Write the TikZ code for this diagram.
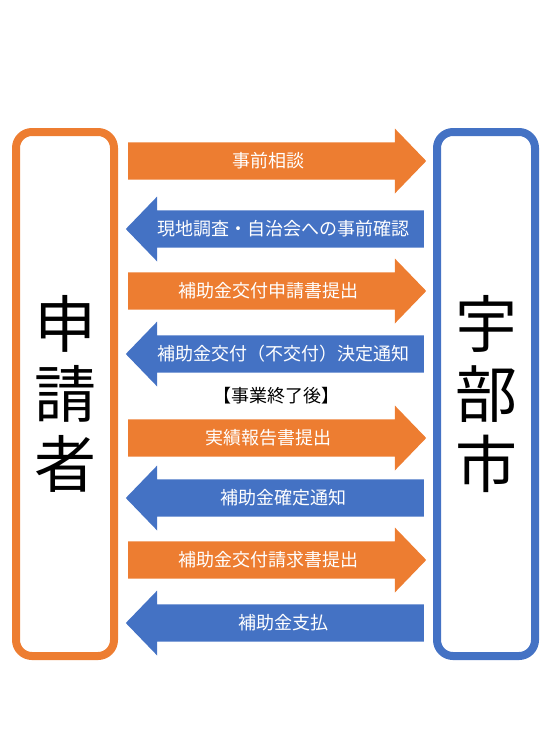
\documentclass[tikz,border=0pt]{standalone}
\usepackage{fontspec}
\newfontfamily\cjk{Noto Sans CJK JP}
\usetikzlibrary{shapes.arrows, positioning}
\definecolor{ubeorange}{HTML}{ED7D31}
\definecolor{ubeblue}{HTML}{4472C4}

\tikzset{
  party/.style={draw, line width=8pt, rounded corners=16pt, minimum width=98pt,
    minimum height=524pt, align=center, inner sep=0pt,
    font=\cjk\fontsize{62}{70}\selectfont},
  flow/.style={single arrow, single arrow head extend=12pt, single arrow tip angle=92,
    minimum width=65pt, minimum height=298pt, inner xsep=0pt, inner ysep=7.5pt,
    text=white, anchor=tail, font=\cjk\fontsize{18}{18}\selectfont},
  toshi/.style={flow, fill=ubeorange},               % 申請者 -> 宇部市
  toshinsei/.style={flow, fill=ubeblue, shape border rotate=180}, % 宇部市 -> 申請者
}

\begin{document}
\begin{tikzpicture}[x=1pt, y=-1pt] % 1pt = 参考画像の1px、y は下向き
  \useasboundingbox (0,0) rectangle (552,736);

  % =============== 左右の枠 ===============
  \node[party, ubeorange, text=black] (shinsei) at (65,394) {申\\請\\者};
  \node[party, ubeblue, text=black] (shi) at (486,394) {宇\\部\\市};

  % =============== 申請の流れ（矢印の根元で位置決め） ===============
  \node[toshi] (soudan) at (128,161) {事前相談};
  \node[toshinsei] (chousa) at (424,229) {現地調査・自治会への事前確認};
  \node[toshi] (shinseisho) at (128,291) {補助金交付申請書提出};
  \node[toshinsei] (kettei) at (424,354) {補助金交付（不交付）決定通知};

  \node[font=\cjk\fontsize{18}{18}\selectfont] (shuryo) at (276,396) {【事業終了後】};

  \node[toshi] (jisseki) at (128,438) {実績報告書提出};
  \node[toshinsei] (kakutei) at (424,498) {補助金確定通知};
  \node[toshi] (seikyu) at (128,560) {補助金交付請求書提出};
  \node[toshinsei] (shiharai) at (424,623) {補助金支払};
\end{tikzpicture}
\end{document}
